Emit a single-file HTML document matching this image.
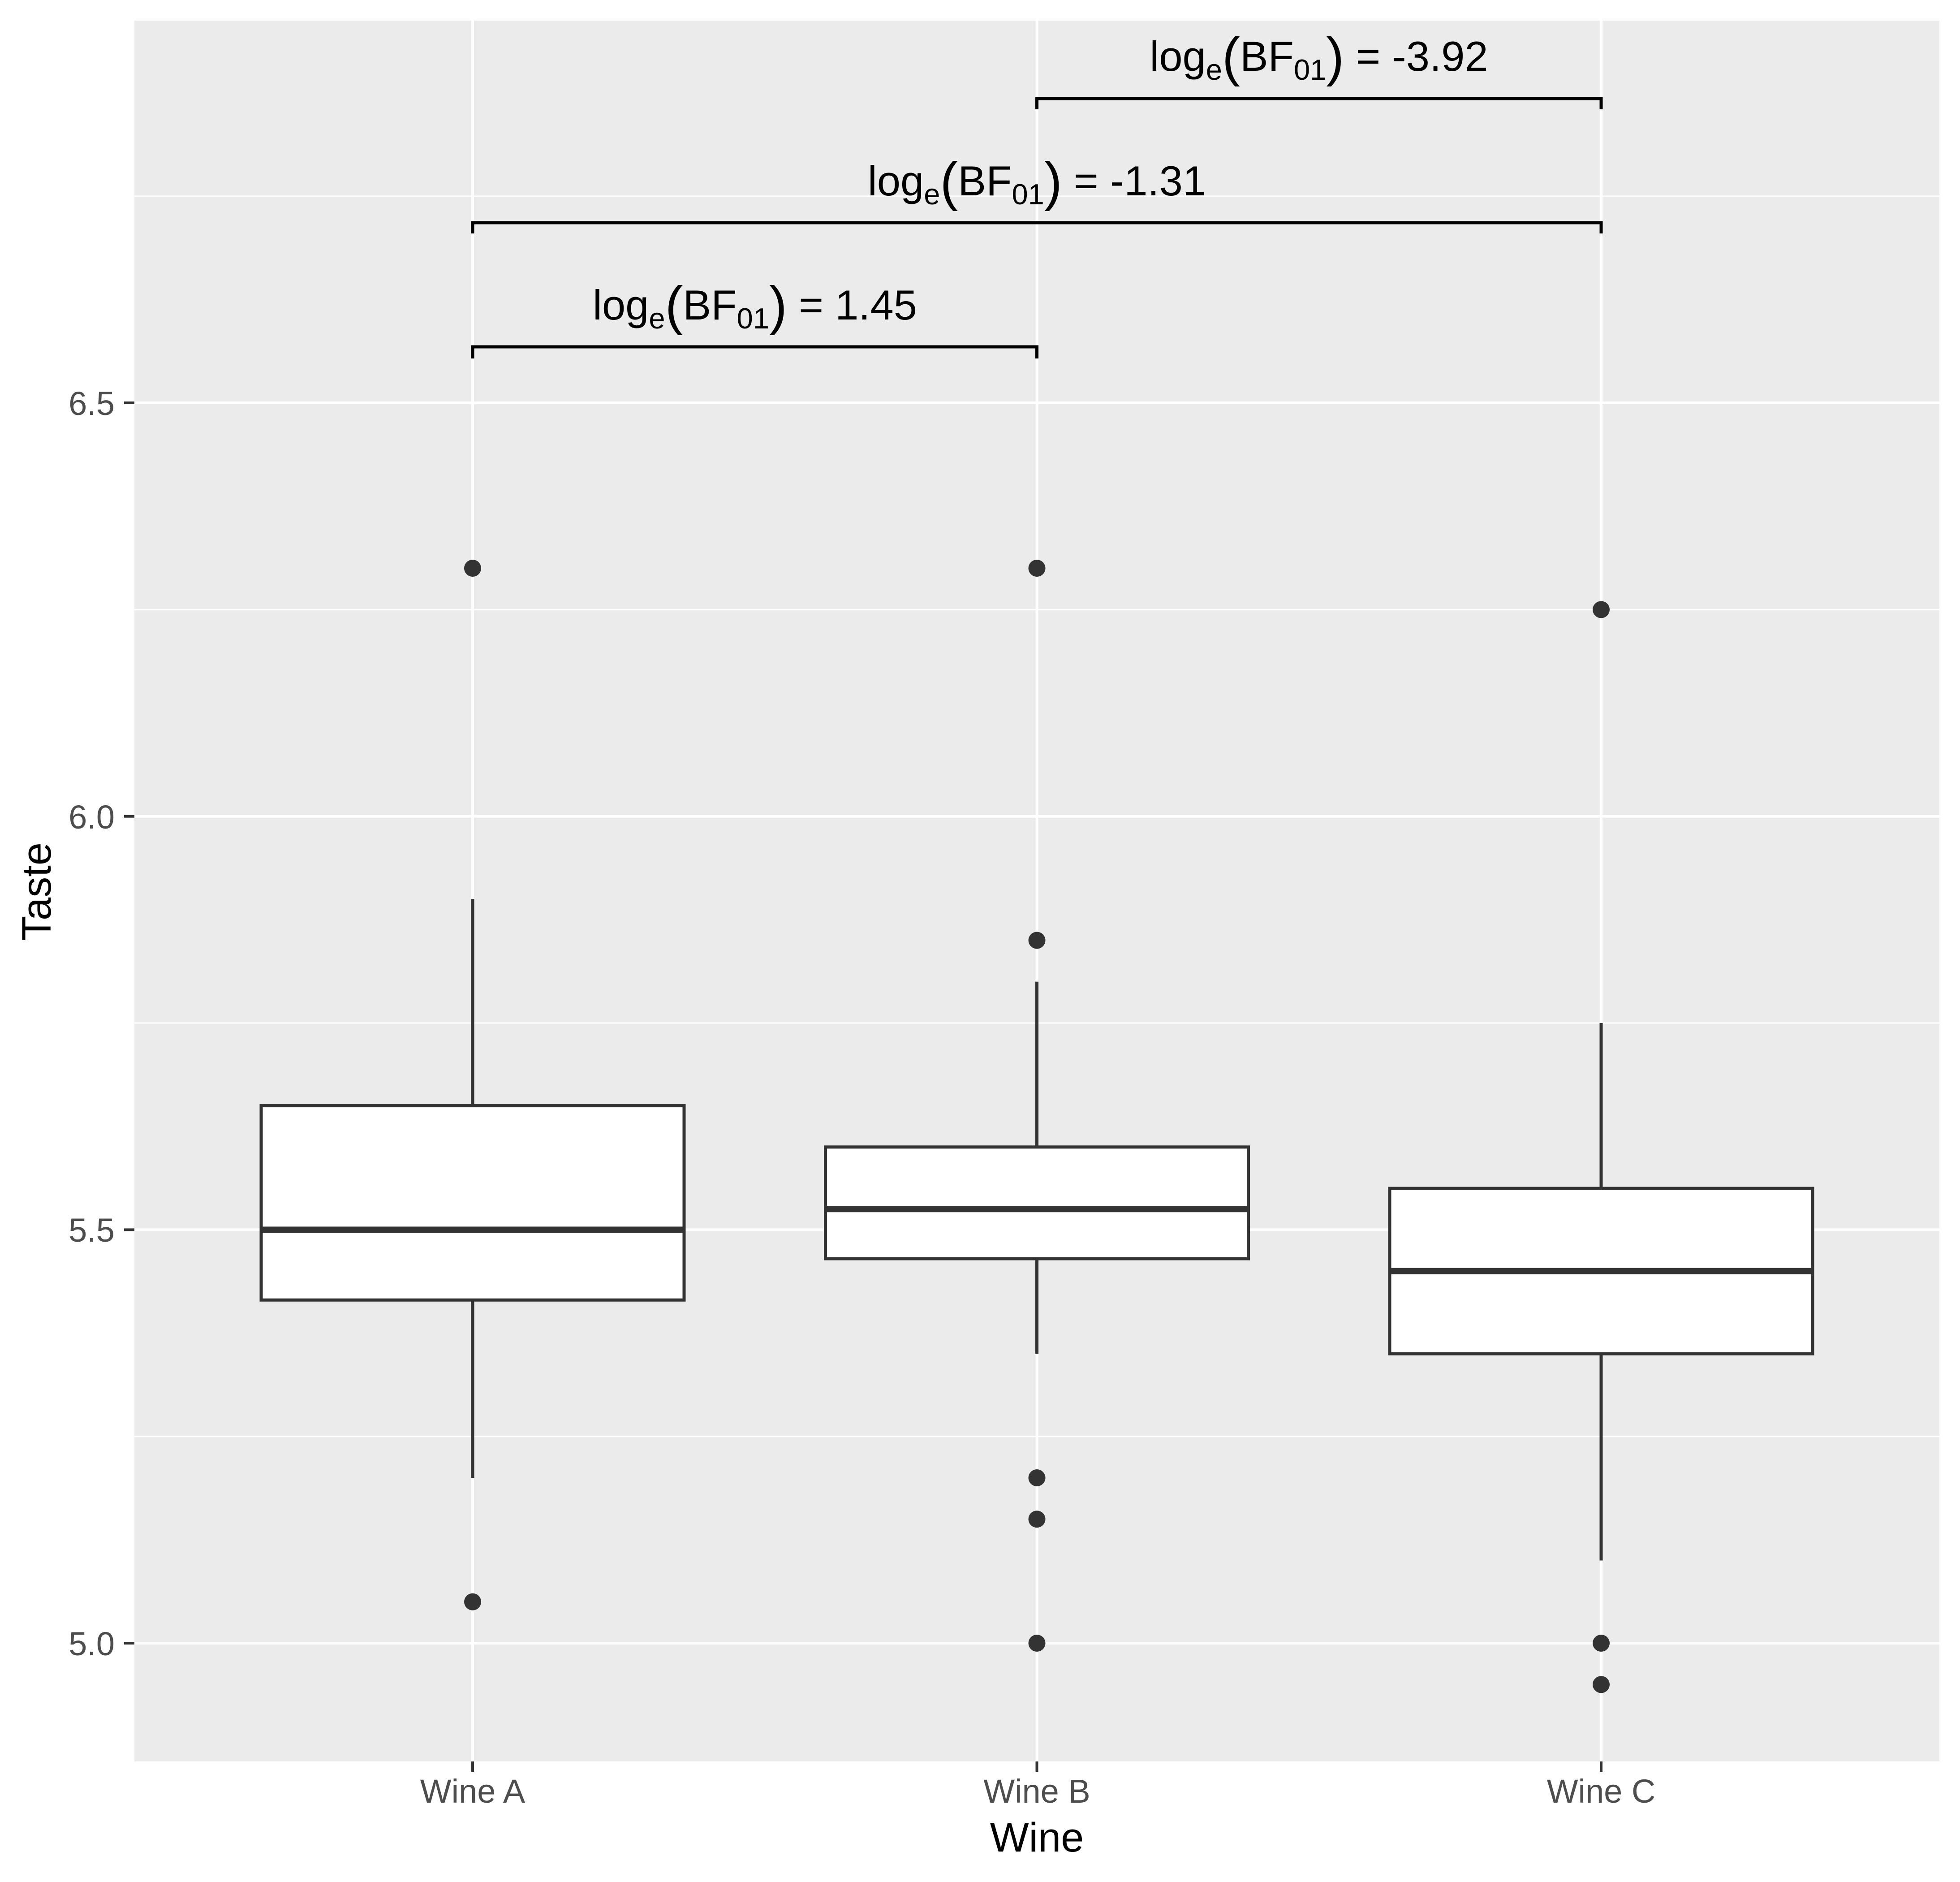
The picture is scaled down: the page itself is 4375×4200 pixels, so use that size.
<!DOCTYPE html>
<html><head><meta charset="utf-8"><style>html,body{margin:0;padding:0;background:#fff}svg{display:block}</style></head>
<body>
<svg xmlns="http://www.w3.org/2000/svg" width="4375" height="4200" viewBox="0 0 4375 4200" font-family="Liberation Sans, Arial, sans-serif">
<rect x="0" y="0" width="4375" height="4200" fill="#fff"/>
<rect x="300" y="46" width="4029" height="3885" fill="#EBEBEB"/>
<g stroke="#fff" stroke-width="3">
<line x1="300" x2="4329" y1="3205.7" y2="3205.7"/>
<line x1="300" x2="4329" y1="2283" y2="2283"/>
<line x1="300" x2="4329" y1="1360.4" y2="1360.4"/>
<line x1="300" x2="4329" y1="437.7" y2="437.7"/>
</g>
<g stroke="#fff" stroke-width="6">
<line x1="300" x2="4329" y1="3667" y2="3667"/>
<line x1="300" x2="4329" y1="2744.4" y2="2744.4"/>
<line x1="300" x2="4329" y1="1821.7" y2="1821.7"/>
<line x1="300" x2="4329" y1="899" y2="899"/>
<line x1="1055" x2="1055" y1="46" y2="3931"/>
<line x1="2314.5" x2="2314.5" y1="46" y2="3931"/>
<line x1="3574" x2="3574" y1="46" y2="3931"/>
</g>
<g stroke="#333" stroke-width="7" fill="#fff">
<line x1="1055" x2="1055" y1="2006.2" y2="2467.6"/>
<line x1="1055" x2="1055" y1="2901.2" y2="3298"/>
<rect x="583" y="2467.6" width="944" height="433.6"/>
<line x1="583" x2="1527" y1="2744.4" y2="2744.4" stroke-width="14"/>
<line x1="2314.5" x2="2314.5" y1="2190.8" y2="2559.8"/>
<line x1="2314.5" x2="2314.5" y1="2809" y2="3021.1"/>
<rect x="1842.5" y="2559.8" width="944" height="249.2"/>
<line x1="1842.5" x2="2786.5" y1="2698.2" y2="2698.2" stroke-width="14"/>
<line x1="3574" x2="3574" y1="2283" y2="2652.1"/>
<line x1="3574" x2="3574" y1="3021.1" y2="3482.5"/>
<rect x="3102" y="2652.1" width="944" height="369"/>
<line x1="3102" x2="4046" y1="2836.6" y2="2836.6" stroke-width="14"/>
</g>
<g fill="#333">
<circle cx="1055" cy="1268.1" r="19"/>
<circle cx="1055" cy="3574.7" r="19"/>
<circle cx="2314.5" cy="1268.1" r="19"/>
<circle cx="2314.5" cy="2098.5" r="19"/>
<circle cx="2314.5" cy="3298" r="19"/>
<circle cx="2314.5" cy="3390.2" r="19"/>
<circle cx="2314.5" cy="3667" r="19"/>
<circle cx="3574" cy="1360.4" r="19"/>
<circle cx="3574" cy="3667" r="19"/>
<circle cx="3574" cy="3759.3" r="19"/>
</g>
<g stroke="#000" stroke-width="7" fill="none">
<polyline points="1055,800 1055,774 2314.5,774 2314.5,800"/>
<polyline points="1055,521 1055,497 3574,497 3574,521"/>
<polyline points="2314.5,244 2314.5,220 3574,220 3574,244"/>
</g>
<g font-size="94" fill="#000" text-anchor="middle">
<text x="1685" y="713">log<tspan font-size="65" dy="20">e</tspan><tspan font-size="120" dy="-10">(</tspan><tspan dy="-10">BF</tspan><tspan font-size="65" dy="20">01</tspan><tspan font-size="120" dy="-10">)</tspan><tspan dy="-10"> = 1.45</tspan></text>
<text x="2314.5" y="436">log<tspan font-size="65" dy="20">e</tspan><tspan font-size="120" dy="-10">(</tspan><tspan dy="-10">BF</tspan><tspan font-size="65" dy="20">01</tspan><tspan font-size="120" dy="-10">)</tspan><tspan dy="-10"> = -1.31</tspan></text>
<text x="2944" y="158">log<tspan font-size="65" dy="20">e</tspan><tspan font-size="120" dy="-10">(</tspan><tspan dy="-10">BF</tspan><tspan font-size="65" dy="20">01</tspan><tspan font-size="120" dy="-10">)</tspan><tspan dy="-10"> = -3.92</tspan></text>
</g>
<g stroke="#333" stroke-width="6">
<line x1="277" x2="300" y1="3667" y2="3667"/>
<line x1="277" x2="300" y1="2744.4" y2="2744.4"/>
<line x1="277" x2="300" y1="1821.7" y2="1821.7"/>
<line x1="277" x2="300" y1="899" y2="899"/>
<line x1="1055" x2="1055" y1="3931" y2="3954"/>
<line x1="2314.5" x2="2314.5" y1="3931" y2="3954"/>
<line x1="3574" x2="3574" y1="3931" y2="3954"/>
</g>
<g font-size="74" fill="#4D4D4D" text-anchor="end">
<text x="256" y="3694">5.0</text>
<text x="256" y="2771">5.5</text>
<text x="256" y="1849">6.0</text>
<text x="256" y="926">6.5</text>
</g>
<g font-size="74" fill="#4D4D4D" text-anchor="middle">
<text x="1055" y="4023">Wine A</text>
<text x="2314.5" y="4023">Wine B</text>
<text x="3574" y="4023">Wine C</text>
</g>
<text x="2314.5" y="4132" font-size="92" text-anchor="middle" fill="#000">Wine</text>
<text transform="translate(113,1990) rotate(-90)" font-size="92" text-anchor="middle" fill="#000">Taste</text>
</svg>
</body></html>
